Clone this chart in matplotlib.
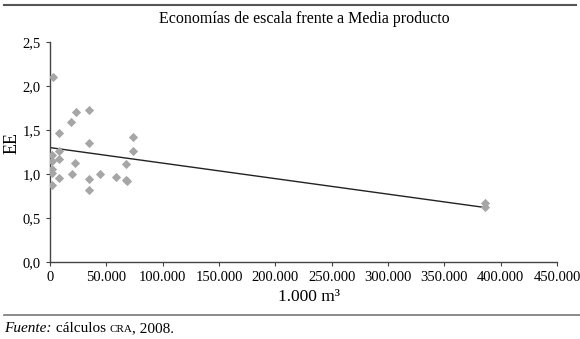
import matplotlib.pyplot as plt
import numpy as np

# volumen (1.000 m3) y economias de escala (EE)
volumen = [2400, 2000, 2000, 2000, 2000, 2000, 7700, 8300, 8000, 8000,
           18900, 22800, 22500, 19300, 34300, 34300, 34300, 34300,
           44100, 58300, 67200, 67200, 68500, 73700, 73700,
           385700, 385700]
ee = [2.10, 1.22, 1.15, 1.06, 1.01, 0.88, 1.47, 1.26, 1.17, 0.96,
      1.59, 1.70, 1.12, 1.00, 1.73, 1.35, 0.94, 0.82,
      1.00, 0.97, 1.11, 0.93, 0.92, 1.42, 1.26,
      0.67, 0.62]

# recta de tendencia (lineal)
trend_x = [0, 385700]
trend_y = [1.30, 0.62]

xticks = [0, 50000, 100000, 150000, 200000, 250000, 300000, 350000, 400000, 450000]
yticks = [0.0, 0.5, 1.0, 1.5, 2.0, 2.5]

plt.rcParams['font.family'] = ['Liberation Serif', 'DejaVu Serif']

fig = plt.figure(figsize=(5.8, 3.39), dpi=100)
ax = fig.add_axes([50/580, 1-262/339, 507/580, 220/339])

ax.scatter(volumen, ee, marker='D', s=22, color='#a6a6a6', lw=0, zorder=3)
ax.plot(trend_x, trend_y, color='#222222', lw=1.0, zorder=2)

ax.set_xlim(0, 450000)
ax.set_ylim(0, 2.5)
ax.set_xticks(xticks)
ax.set_xticklabels(['0' if v == 0 else f"{v:,}".replace(',', '.') for v in xticks])
ax.set_yticks(yticks)
ax.set_yticklabels([f"{v:.1f}".replace('.', ',') for v in yticks])
ax.tick_params(labelsize=10.5, length=3, color='#444444', width=0.8)

for s in ['top', 'right']:
    ax.spines[s].set_visible(False)
for s in ['left', 'bottom']:
    ax.spines[s].set_color('#444444')
    ax.spines[s].set_linewidth(1.0)

fig.text(304/580, 1-19/339, 'Economías de escala frente a Media producto',
         fontsize=11.5, ha='center', va='center')
fig.text(309/580, 1-297/339, '1.000 m³', fontsize=12.5, ha='center', va='center')
fig.text(12/580, 1-143/339, 'EE', fontsize=13, rotation=90, ha='center', va='center')

# lineas horizontales del recuadro
fig.add_artist(plt.Line2D([4/580, 576/580], [1-5/339, 1-5/339], color='#555555', lw=1.5))
fig.add_artist(plt.Line2D([4/580, 1], [1-315/339, 1-315/339], color='#777777', lw=1.2))

# nota de fuente, piezas encadenadas
fy = 1-332/339
parts = [('Fuente:', 11, 'italic'), (' cálculos ', 11, 'normal'),
         ('CRA', 8, 'normal'), (', 2008.', 11, 'normal')]
fig.canvas.draw()
r = fig.canvas.get_renderer()
xpos = 4
for txt, fs, st in parts:
    t = fig.text(xpos/580, fy, txt, fontsize=fs, style=st, va='baseline')
    xpos += t.get_window_extent(renderer=r).width
fig.savefig('out.png', dpi=100)
